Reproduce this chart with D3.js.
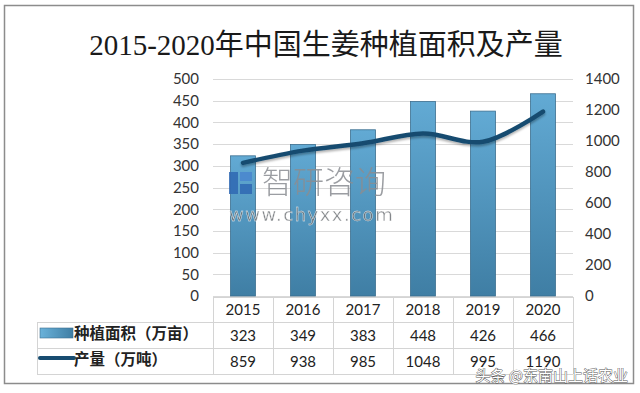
<!DOCTYPE html>
<html>
<head>
<meta charset="utf-8">
<script src="https://cdn.jsdelivr.net/npm/d3@7"></script>
<style>
  html, body { margin: 0; padding: 0; background: #fff; }
  svg { display: block; }
</style>
</head>
<body>
<svg id="chart" width="640" height="393"></svg>
<script>
// data
const years = ['2015', '2016', '2017', '2018', '2019', '2020'];
const area = [323, 349, 383, 448, 426, 466];          // 种植面积（万亩）
const output = [859, 938, 985, 1048, 995, 1190];      // 产量（万吨）
const output_labels = ['859', '938', '985', '1048', '995', '1190'];
const leftTicks = d3.range(0, 501, 50);
const rightTicks = d3.range(0, 1401, 200);
const seriesNames = ['种植面积（万亩）', '产量（万吨）'];

const svg = d3.select('#chart');
const plot = { left: 213, right: 573, top: 79, bottom: 296 };
const numFont = 'Lato, "Noto Sans", sans-serif';
const cjkFont = '"Noto Sans CJK SC", sans-serif';

const defs = svg.append('defs');
const barGrad = defs.append('linearGradient').attr('id', 'barGrad')
  .attr('x1', 0).attr('y1', 0).attr('x2', 0).attr('y2', 1);
barGrad.append('stop').attr('offset', '0%').attr('stop-color', '#62aad4');
barGrad.append('stop').attr('offset', '100%').attr('stop-color', '#3f7ea4');
const keyGrad = defs.append('linearGradient').attr('id', 'keyGrad')
  .attr('x1', 0).attr('y1', 0).attr('x2', 1).attr('y2', 0);
keyGrad.append('stop').attr('offset', '0%').attr('stop-color', '#6ab2da');
keyGrad.append('stop').attr('offset', '100%').attr('stop-color', '#3f7ea4');
const shadow = defs.append('filter').attr('id', 'shadow')
  .attr('x', '-10%').attr('y', '-10%').attr('width', '120%').attr('height', '140%');
shadow.append('feDropShadow').attr('dx', 0).attr('dy', 2).attr('stdDeviation', 1.2)
  .attr('flood-color', '#000').attr('flood-opacity', 0.3);

// outer frame
svg.append('rect').attr('x', 4.5).attr('y', 5.5).attr('width', 629).attr('height', 378)
  .attr('fill', '#fff').attr('stroke', '#8c8c8c').attr('stroke-width', 1.5);

// title
svg.append('text').attr('x', 326).attr('y', 55).attr('text-anchor', 'middle')
  .attr('font-family', '"Liberation Serif", "DejaVu Serif", "Noto Sans CJK SC", serif')
  .attr('font-size', 29).attr('fill', '#1a1a1a')
  .text('2015-2020年中国生姜种植面积及产量');

// scales
const x = d3.scaleBand().domain(years).range([plot.left, plot.right]);
const yL = d3.scaleLinear().domain([0, 500]).range([plot.bottom, plot.top]);
const yR = d3.scaleLinear().domain([0, 1400]).range([plot.bottom, plot.top]);

// grid
svg.append('g').selectAll('line').data(leftTicks).enter().append('line')
  .attr('x1', plot.left).attr('x2', plot.right)
  .attr('y1', d => Math.round(yL(d)) + 0.5).attr('y2', d => Math.round(yL(d)) + 0.5)
  .attr('stroke', '#d9d9d9').attr('stroke-width', 1);

// axes
const leftAxis = svg.append('g').attr('transform', `translate(${plot.left - 14},0)`)
  .call(d3.axisLeft(yL).tickValues(leftTicks).tickFormat(d3.format('d')).tickSize(0).tickPadding(0));
leftAxis.select('.domain').remove();
leftAxis.selectAll('text').attr('font-family', numFont).attr('font-size', 15).attr('fill', '#333');

const rightAxis = svg.append('g').attr('transform', `translate(${plot.right + 12},0)`)
  .call(d3.axisRight(yR).tickValues(rightTicks).tickFormat(d3.format('d')).tickSize(0).tickPadding(0));
rightAxis.select('.domain').remove();
rightAxis.selectAll('text').attr('font-family', numFont).attr('font-size', 15).attr('fill', '#333');

// bars
const barW = 25;
svg.append('g').selectAll('rect').data(area).enter().append('rect')
  .attr('x', (d, i) => x(years[i]) + x.bandwidth() / 2 - barW / 2)
  .attr('y', d => yL(d))
  .attr('width', barW)
  .attr('height', d => plot.bottom - yL(d))
  .attr('fill', 'url(#barGrad)')
  .attr('stroke', '#3c6f90').attr('stroke-width', 0.8);

// watermark
const wm = svg.append('g').attr('opacity', 0.85);
wm.append('rect').attr('x', 229).attr('y', 172).attr('width', 9).attr('height', 22).attr('fill', '#2f68b3');
wm.append('rect').attr('x', 240).attr('y', 172).attr('width', 12).attr('height', 9).attr('fill', '#4a86cf');
wm.append('rect').attr('x', 240).attr('y', 184).attr('width', 12).attr('height', 10).attr('fill', '#2f68b3');
wm.append('text').attr('x', 262).attr('y', 193)
  .attr('font-family', cjkFont).attr('font-size', 31).attr('font-weight', 300)
  .attr('fill', '#8a8d92').text('智研咨询');
wm.append('text').attr('x', 229).attr('y', 221)
  .attr('font-family', '"DejaVu Sans", sans-serif').attr('font-size', 18)
  .attr('letter-spacing', 1.5).attr('fill', '#6e7276').attr('stroke', '#fff').attr('stroke-width', 0.4)
  .text('www.chyxx.com');

// line
const line = d3.line()
  .x((d, i) => x(years[i]) + x.bandwidth() / 2)
  .y(d => yR(d))
  .curve(d3.curveCatmullRom.alpha(0.5));
svg.append('path').datum(output).attr('d', line)
  .attr('fill', 'none').attr('stroke', '#174c70').attr('stroke-width', 4.5)
  .attr('stroke-linecap', 'round').attr('filter', 'url(#shadow)');

// data table
const tbl = { top: 297, rowH: 26, left: 37 };
const tg = svg.append('g').attr('stroke', '#d4d4d4').attr('stroke-width', 1);
tg.append('line').attr('x1', plot.left).attr('x2', plot.right).attr('y1', tbl.top + 0.5).attr('y2', tbl.top + 0.5);
[1, 2, 3].forEach(k => {
  const yy = tbl.top + k * tbl.rowH - 1 + 0.5;
  tg.append('line').attr('x1', tbl.left).attr('x2', plot.right).attr('y1', yy).attr('y2', yy);
});
years.concat(['end']).forEach((yr, i) => {
  const xx = Math.round(plot.left + i * x.bandwidth()) + 0.5;
  tg.append('line').attr('x1', xx).attr('x2', xx).attr('y1', tbl.top).attr('y2', tbl.top + 3 * tbl.rowH - 1);
});
tg.append('line').attr('x1', tbl.left + 0.5).attr('x2', tbl.left + 0.5)
  .attr('y1', tbl.top + tbl.rowH - 1).attr('y2', tbl.top + 3 * tbl.rowH - 1);

const rowTexts = [years, area.map(String), output_labels];
rowTexts.forEach((row, r) => {
  svg.append('g').selectAll('text').data(row).enter().append('text')
    .attr('x', (d, i) => x(years[i]) + x.bandwidth() / 2)
    .attr('y', tbl.top + r * tbl.rowH + 18)
    .attr('text-anchor', 'middle')
    .attr('font-family', numFont).attr('font-size', 15).attr('fill', '#222')
    .text(d => d);
});

// legend keys in table
svg.append('rect').attr('x', 40).attr('y', 328).attr('width', 33).attr('height', 10)
  .attr('fill', 'url(#keyGrad)').attr('stroke', '#3c6f90').attr('stroke-width', 0.6);
svg.append('line').attr('x1', 40).attr('x2', 74).attr('y1', 358).attr('y2', 358)
  .attr('stroke', '#174c70').attr('stroke-width', 4).attr('stroke-linecap', 'round');
seriesNames.forEach((name, i) => {
  svg.append('text').attr('x', 74).attr('y', 339 + i * 26)
    .attr('font-family', cjkFont).attr('font-size', 15.5).attr('font-weight', 700)
    .attr('fill', '#222').text(name);
});

// source mark
svg.append('text').attr('x', 628).attr('y', 381).attr('text-anchor', 'end')
  .attr('font-family', cjkFont).attr('font-size', 15)
  .attr('fill', '#fff').attr('stroke', '#555').attr('stroke-width', 0.9).attr('paint-order', 'stroke')
  .text('头条 @东南山上话农业');
</script>
</body>
</html>
